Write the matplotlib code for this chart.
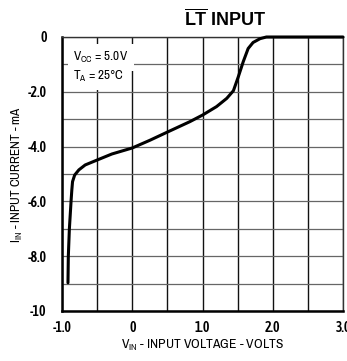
import matplotlib
matplotlib.use("Agg")
import matplotlib.pyplot as plt
from matplotlib.ticker import MultipleLocator, FixedLocator

NARROW = ['Archivo Narrow', 'Asap Condensed', 'DejaVu Sans']
TICKFONT = ['Asap Condensed', 'Archivo Narrow', 'DejaVu Sans']
plt.rcParams['font.family'] = NARROW
plt.rcParams['mathtext.fontset'] = 'custom'
plt.rcParams['mathtext.rm'] = 'Archivo Narrow'
plt.rcParams['mathtext.bf'] = 'Liberation Sans:bold'

# Data
vin = [-0.915, -0.91, -0.895, -0.87, -0.86, -0.85, -0.82, -0.76, -0.67, -0.5,
       -0.29, 0.0, 0.25, 0.5, 0.82, 1.0, 1.2, 1.345, 1.44, 1.51, 1.58, 1.65,
       1.72, 1.82, 1.91, 2.5, 3.0]
iin = [-8.97, -8.0, -7.0, -5.95, -5.58, -5.28, -5.04, -4.85, -4.67, -4.49,
       -4.27, -4.05, -3.77, -3.47, -3.09, -2.85, -2.54, -2.24, -1.96, -1.45, -0.9, -0.42,
       -0.2, -0.06, 0.0, 0.0, 0.0]

x_ticks = [-1.0, 0.0, 1.0, 2.0, 3.0]
x_ticklabels = ["-1.0", "0", "1.0", "2.0", "3.0"]
y_ticks = [0, -2, -4, -6, -8, -10]
y_ticklabels = ["0", "-2.0", "-4.0", "-6.0", "-8.0", "-10"]

fig = plt.figure(figsize=(3.47, 3.61), dpi=100)
ax = fig.add_axes([62/347, 1 - 311/361, (343 - 62)/347, (311 - 37)/361])

ax.set_xlim(-1.0, 3.0)
ax.set_ylim(-10, 0)
ax.xaxis.set_major_locator(FixedLocator(x_ticks))
ax.set_xticklabels(x_ticklabels)
ax.yaxis.set_major_locator(FixedLocator(y_ticks))
ax.set_yticklabels(y_ticklabels)
ax.xaxis.set_minor_locator(MultipleLocator(0.5))
ax.yaxis.set_minor_locator(MultipleLocator(1.0))
ax.tick_params(which='both', length=0)
ax.tick_params(axis='both', labelsize=10)
ax.tick_params(axis='x', pad=7)
ax.tick_params(axis='y', pad=11)
for lab in ax.get_xticklabels() + ax.get_yticklabels():
    lab.set_fontweight('semibold')
    lab.set_family(TICKFONT)

ax.grid(which='both', axis='x', color='#111111', linewidth=1.0)
ax.grid(which='both', axis='y', color='#666666', linewidth=0.9)
ax.set_axisbelow(True)

for s in ['left', 'bottom']:
    ax.spines[s].set_linewidth(1.8)
for s in ['top', 'right']:
    ax.spines[s].set_linewidth(1.0)
    ax.spines[s].set_color('#333333')

ax.plot(vin, iin, color='black', linewidth=2.2, solid_joinstyle='round',
        solid_capstyle='round', zorder=5, clip_on=False)

ax.text(-0.84, -0.75, r'V$_{\mathrm{CC}}$ = 5.0V', fontsize=9.5,
        va='center', ha='left', zorder=6,
        bbox=dict(facecolor='white', edgecolor='none', pad=4))
ax.text(-0.84, -1.45, r'T$_{\mathrm{A}}$ = 25°C', fontsize=9.5,
        va='center', ha='left', zorder=6,
        bbox=dict(facecolor='white', edgecolor='none', pad=4))

fig.text(225/347, 1 - 19/361, r'$\overline{\mathbf{LT}}$ INPUT', fontsize=13,
         fontweight='bold', family=['Liberation Sans', 'DejaVu Sans'],
         ha='center', va='center')

fig.text(202/347, 1 - 345/361, r'V$_{\mathrm{IN}}$ - INPUT VOLTAGE - VOLTS',
         fontsize=9.8, ha='center', va='center')
fig.text(17/347, 1 - 175/361, r'I$_{\mathrm{IN}}$ - INPUT CURRENT - mA',
         fontsize=9.5, ha='center', va='center', rotation=90)

fig.savefig('out.png', dpi=100)
